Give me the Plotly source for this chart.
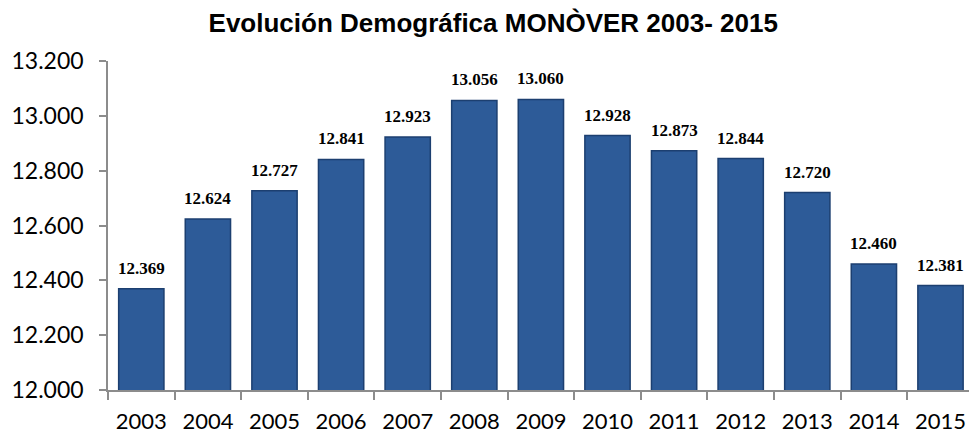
import plotly.graph_objects as go

years = ["2003", "2004", "2005", "2006", "2007", "2008", "2009",
         "2010", "2011", "2012", "2013", "2014", "2015"]
population = [12369, 12624, 12727, 12841, 12923, 13056, 13060,
              12928, 12873, 12844, 12720, 12460, 12381]
y_ticks = [12000, 12200, 12400, 12600, 12800, 13000, 13200]

title_text = "Evolución Demográfica MONÒVER 2003- 2015"

fig = go.Figure()
fig.add_trace(go.Bar(
    x=years, y=population,
    marker=dict(color="#2D5B98", line=dict(color="#1C3F70", width=1.5)),
    width=0.68,
    hoverinfo="x+y",
))

label_annotations = [
    dict(x=i, y=v, xref="x", yref="y",
         text="<b>" + f"{v:,}".replace(",", ".") + "</b>",
         showarrow=False, yanchor="bottom", yshift=9,
         font=dict(family="Liberation Serif", size=17, color="#000000"))
    for i, v in enumerate(population)
]

fig.update_layout(
    width=969, height=436,
    margin=dict(l=108, r=0, t=61, b=46, autoexpand=False),
    paper_bgcolor="white", plot_bgcolor="white",
    separators=",.",
    showlegend=False,
    title=dict(text="<b>" + title_text + "</b>",
               x=0.509, xref="container", xanchor="center",
               y=1 - 23 / 436, yref="container", yanchor="middle",
               font=dict(family="Liberation Sans", size=26, color="#000000")),
    annotations=label_annotations,
    xaxis=dict(
        type="category",
        automargin=False,
        range=[-0.5, -0.5 + 861 / 66.6],
        showline=True, linecolor="#8C8C8C", linewidth=1.5,
        ticks="outside", tickson="boundaries", ticklen=8,
        tickcolor="#8C8C8C", tickwidth=1.5,
        ticklabelstandoff=11,
        showgrid=False, zeroline=False,
        tickfont=dict(family="Lato", size=22, color="#000000"),
    ),
    yaxis=dict(
        automargin=False,
        range=[12000, 13200],
        tickvals=y_ticks, tickformat=",d",
        showline=True, linecolor="#8C8C8C", linewidth=1.5,
        ticks="outside", ticklen=7, tickcolor="#8C8C8C", tickwidth=1.5,
        ticklabelstandoff=11,
        showgrid=False, zeroline=False,
        tickfont=dict(family="Lato", size=23, color="#000000"),
    ),
)

fig.write_html("out.html")
